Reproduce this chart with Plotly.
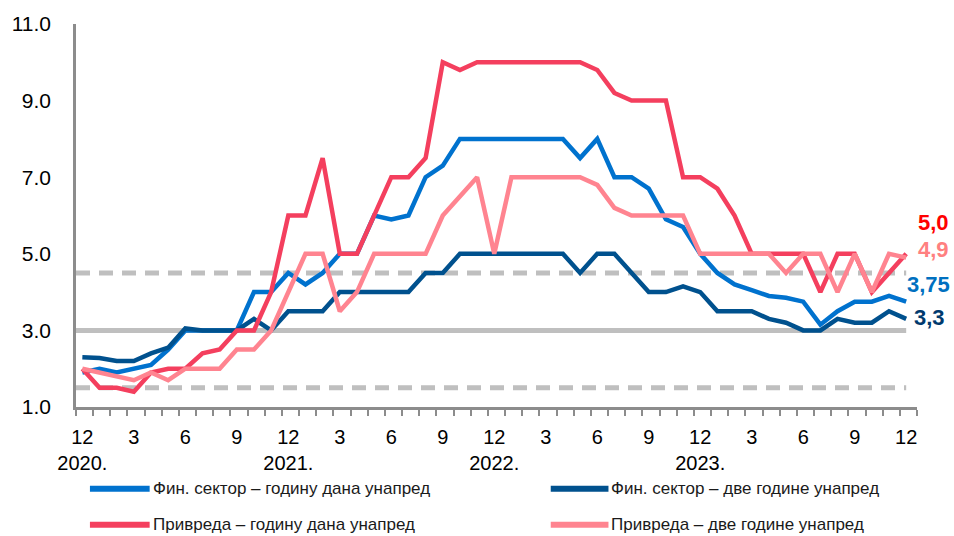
import plotly.graph_objects as go

# ---- data (monthly, Dec 2019 ... Dec 2023 tick positions 0..48) ----
months = list(range(49))
fin_1y = [1.9, 2.0, 1.9, 2.0, 2.1, 2.5, 3.0, 3.0, 3.0, 3.0, 4.0, 4.0,
          4.5, 4.2, 4.5, 5.0, 5.0, 6.0, 5.9, 6.0, 7.0, 7.3, 8.0, 8.0,
          8.0, 8.0, 8.0, 8.0, 8.0, 7.5, 8.0, 7.0, 7.0, 6.7, 5.9, 5.7,
          5.0, 4.5, 4.2, 4.05, 3.9, 3.85, 3.75, 3.15, 3.5, 3.75, 3.75, 3.9,
          3.75]
fin_2y = [2.3, 2.28, 2.2, 2.2, 2.4, 2.55, 3.05, 3.0, 3.0, 3.0, 3.3, 3.0,
          3.5, 3.5, 3.5, 4.0, 4.0, 4.0, 4.0, 4.0, 4.5, 4.5, 5.0, 5.0,
          5.0, 5.0, 5.0, 5.0, 5.0, 4.5, 5.0, 5.0, 4.5, 4.0, 4.0, 4.15,
          4.0, 3.5, 3.5, 3.5, 3.3, 3.2, 3.0, 3.0, 3.3, 3.2, 3.2, 3.5,
          3.3]
priv_1y = [2.0, 1.5, 1.5, 1.4, 1.9, 2.0, 2.0, 2.4, 2.5, 3.0, 3.0, 4.0,
           6.0, 6.0, 7.5, 5.0, 5.0, 6.0, 7.0, 7.0, 7.5, 10.0, 9.8, 10.0,
           10.0, 10.0, 10.0, 10.0, 10.0, 10.0, 9.8, 9.2, 9.0, 9.0, 9.0, 7.0,
           7.0, 6.7, 6.0, 5.0, 5.0, 5.0, 5.0, 4.0, 5.0, 5.0, 4.0, 4.5,
           5.0]
priv_2y = [2.0, 1.9, 1.8, 1.7, 1.9, 1.7, 2.0, 2.0, 2.0, 2.5, 2.5, 3.0,
           4.0, 5.0, 5.0, 3.5, 4.0, 5.0, 5.0, 5.0, 5.0, 6.0, 6.5, 7.0,
           5.0, 7.0, 7.0, 7.0, 7.0, 7.0, 6.8, 6.2, 6.0, 6.0, 6.0, 6.0,
           5.0, 5.0, 5.0, 5.0, 5.0, 4.5, 5.0, 5.0, 4.0, 5.0, 4.0, 5.0,
           4.9]

series_names = ["Фин. сектор – годину дана унапред",
                "Фин. сектор – две године унапред",
                "Привреда – годину дана унапред",
                "Привреда – две године унапред"]
series_values = [fin_1y, fin_2y, priv_1y, priv_2y]
series_colors = ["#0072CE", "#00518E", "#F43F5E", "#FF8490"]

end_labels = ["3,75", "3,3", "5,0", "4,9"]
end_label_colors = ["#0070C0", "#003A6E", "#FF0000", "#FF8080"]
end_label_y = [4.19, 3.33, 5.82, 5.12]
end_label_shift = [-1, 6, 10, 10]

band_center = 3.0
band_low = 1.5
band_high = 4.5

tick_months = ["12", "3", "6", "9"]
years = ["2020.", "2021.", "2022.", "2023."]

tickvals = list(range(0, 49, 3))
ticktext = []
for k, v in enumerate(tickvals):
    m = tick_months[k % 4]
    if v % 12 == 0 and v // 12 < len(years):
        ticktext.append(m + "<br>" + years[v // 12])
    else:
        ticktext.append(m)

FONT = "Liberation Sans, Arial, sans-serif"

fig = go.Figure()
for name, vals, col in zip(series_names, series_values, series_colors):
    fig.add_trace(go.Scatter(x=months, y=vals, mode="lines", name=name,
                             line=dict(color=col, width=4.5),
                             showlegend=False, hoverinfo="skip"))

# reference band lines
grey = "#BFBFBF"
fig.add_shape(type="line", xref="x", yref="y", x0=-0.37, x1=48, y0=band_center, y1=band_center,
              line=dict(color=grey, width=5), layer="below")
for yv in (band_low, band_high):
    fig.add_shape(type="line", xref="x", yref="y", x0=-0.37, x1=48, y0=yv, y1=yv,
                  line=dict(color=grey, width=5, dash="14px,9px"), layer="below")

# end-value labels
for txt, col, yv, sh in zip(end_labels, end_label_colors, end_label_y, end_label_shift):
    fig.add_annotation(x=months[-1], y=yv, xref="x", yref="y", text="<b>" + txt + "</b>",
                       showarrow=False, xanchor="left", yanchor="middle", xshift=sh,
                       font=dict(family=FONT, size=22, color=col))

# manual legend
L, R, T, B = 72, 917, 23, 407
def px(xp):
    return (xp - L) / (R - L)
def py(yp):
    return (B - yp) / (B - T)

legend_pos = [(86, 146, 489), (549, 607, 489), (86, 146, 525), (549, 607, 525)]
for (x0, x1, yy), name, col in zip(legend_pos, series_names, series_colors):
    fig.add_shape(type="line", xref="paper", yref="paper", x0=px(x0), x1=px(x1),
                  y0=py(yy), y1=py(yy), line=dict(color=col, width=6))
    fig.add_annotation(x=px(x1 + 1), y=py(yy), xref="paper", yref="paper", text=name,
                       showarrow=False, xanchor="left", yanchor="middle",
                       font=dict(family=FONT, size=17, color="#1A1A1A"))

fig.update_layout(
    width=954, height=536,
    margin=dict(l=L, r=954 - R, t=T, b=536 - B),
    paper_bgcolor="white", plot_bgcolor="white",
    font=dict(family=FONT, size=20, color="#000000"),
    xaxis=dict(range=[-0.37, 48.63], tickmode="array", tickvals=tickvals, ticktext=ticktext,
               showline=True, linecolor="#8C8C8C", linewidth=2.5, showgrid=False, zeroline=False,
               ticks="", ticklabelstandoff=10,
               tickfont=dict(family=FONT, size=20, color="#000000"),
               minor=dict(tickmode="linear", tick0=-0.37, dtick=1, ticks="outside",
                          ticklen=6, tickwidth=1.5, tickcolor="#8C8C8C", showgrid=False)),
    yaxis=dict(range=[1, 11], tickmode="array", tickvals=[1, 3, 5, 7, 9, 11],
               tickformat=".1f", showline=True, linecolor="#8C8C8C", linewidth=2.5,
               showgrid=False, zeroline=False, ticks="", ticklabelstandoff=18,
               tickfont=dict(family=FONT, size=21, color="#000000")),
)

fig.write_html("out.html", config={"displayModeBar": False},
               post_script="document.documentElement.style.margin='0';"
                           "document.body.style.margin='0';"
                           "document.body.style.overflow='hidden';")
